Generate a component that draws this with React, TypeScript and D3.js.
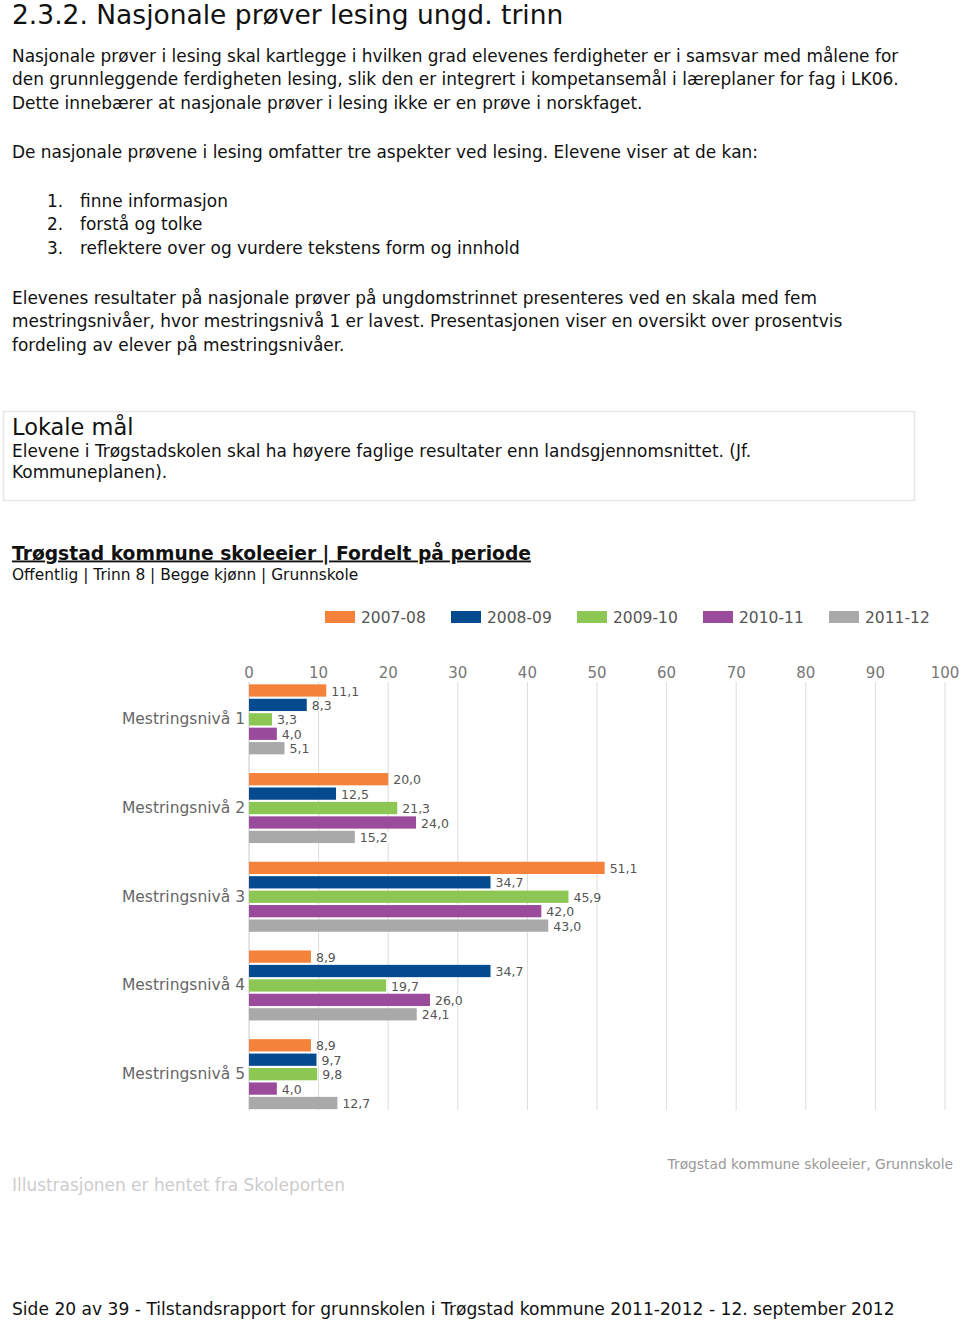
import * as d3 from "d3";

const levels = ["Mestringsnivå 1", "Mestringsnivå 2", "Mestringsnivå 3", "Mestringsnivå 4", "Mestringsnivå 5"];
const periods = ["2007-08", "2008-09", "2009-10", "2010-11", "2011-12"];
const colors = ["#f5823a", "#044a8e", "#8cc653", "#9b4b9c", "#a9a9a9"];

const v0708 = [11.1, 20.0, 51.1, 8.9, 8.9];
const v0809 = [8.3, 12.5, 34.7, 34.7, 9.7];
const v0910 = [3.3, 21.3, 45.9, 19.7, 9.8];
const v1011 = [4.0, 24.0, 42.0, 26.0, 4.0];
const v1112 = [5.1, 15.2, 43.0, 24.1, 12.7];
const values = [v0708, v0809, v0910, v1011, v1112];

const xTicks = [0, 10, 20, 30, 40, 50, 60, 70, 80, 90, 100];

const FONT = "'DejaVu Sans', Verdana, sans-serif";

const intro = [
  "Nasjonale prøver i lesing skal kartlegge i hvilken grad elevenes ferdigheter er i samsvar med målene for",
  "den grunnleggende ferdigheten lesing, slik den er integrert i kompetansemål i læreplaner for fag i LK06.",
  "Dette innebærer at nasjonale prøver i lesing ikke er en prøve i norskfaget.",
];
const aspects = ["finne informasjon", "forstå og tolke", "reflektere over og vurdere tekstens form og innhold"];
const results = [
  "Elevenes resultater på nasjonale prøver på ungdomstrinnet presenteres ved en skala med fem",
  "mestringsnivåer, hvor mestringsnivå 1 er lavest. Presentasjonen viser en oversikt over prosentvis",
  "fordeling av elever på mestringsnivåer.",
];

export default function App() {
  const x = d3.scaleLinear().domain([0, 100]).range([249, 945]);
  const y = d3.scaleBand().domain(levels).range([675, 1118.5]);
  const inner = d3
    .scaleBand()
    .domain(periods)
    .range([(y.bandwidth() - 70) / 2, (y.bandwidth() + 70) / 2])
    .paddingInner(0.15);
  const fmt = (v: number) => v.toFixed(1).replace(".", ",");
  const bodySize = 16.95;

  return (
    <svg
      width={960}
      height={1322}
      style={{ position: "absolute", left: 0, top: 0, background: "#fff" }}
      fontFamily={FONT}
    >
      <text x={12} y={24} fontSize={26.5} fill="#111">
        2.3.2.  Nasjonale prøver lesing ungd. trinn
      </text>
      {intro.map((t, i) => (
        <text key={t} x={12} y={61.5 + i * 23.5} fontSize={bodySize} fill="#111">
          {t}
        </text>
      ))}
      <text x={12} y={157.5} fontSize={bodySize} fill="#111">
        De nasjonale prøvene i lesing omfatter tre aspekter ved lesing. Elevene viser at de kan:
      </text>
      {aspects.map((t, i) => (
        <g key={t}>
          <text x={47} y={206.5 + i * 23.5} fontSize={bodySize} fill="#111">
            {i + 1}.
          </text>
          <text x={80} y={206.5 + i * 23.5} fontSize={bodySize} fill="#111">
            {t}
          </text>
        </g>
      ))}
      {results.map((t, i) => (
        <text key={t} x={12} y={303.5 + i * 23.5} fontSize={bodySize} fill="#111">
          {t}
        </text>
      ))}

      <rect x={3.5} y={411.5} width={911} height={89} fill="#fff" stroke="#e6e6e6" strokeWidth={1.5} />
      <text x={12} y={434.5} fontSize={22.5} fill="#111">
        Lokale mål
      </text>
      <text x={12} y={456.5} fontSize={bodySize} fill="#111">
        Elevene i Trøgstadskolen skal ha høyere faglige resultater enn landsgjennomsnittet. (Jf.
      </text>
      <text x={12} y={477.5} fontSize={bodySize} fill="#111">
        Kommuneplanen).
      </text>

      <text x={12} y={559.5} fontSize={18.7} fontWeight="bold" fill="#111" textDecoration="underline">
        Trøgstad kommune skoleeier | Fordelt på periode
      </text>
      <text x={12} y={579.5} fontSize={15.4} fill="#111">
        Offentlig | Trinn 8 | Begge kjønn | Grunnskole
      </text>

      {periods.map((p, i) => (
        <g key={p} transform={`translate(${325 + i * 126},611)`}>
          <rect width={30} height={12} fill={colors[i]} />
          <text x={36} y={11.5} fontSize={15.5} fill="#555">
            {p}
          </text>
        </g>
      ))}

      {xTicks.map((t) => (
        <g key={t}>
          <line x1={x(t)} x2={x(t)} y1={682} y2={1110} stroke={t === 0 ? "#c8c8c8" : "#dcdcdc"} />
          <text x={x(t)} y={678} fontSize={15} fill="#777" textAnchor="middle">
            {t}
          </text>
        </g>
      ))}

      {levels.map((lvl, li) => (
        <g key={lvl} transform={`translate(0,${y(lvl)})`}>
          <text x={245} y={y.bandwidth() / 2 + 5} fontSize={15.5} fill="#666" textAnchor="end">
            {lvl}
          </text>
          {periods.map((p, pi) => {
            const v = values[pi][li];
            const by = inner(p) as number;
            const h = inner.bandwidth();
            const label = fmt(v);
            return (
              <g key={p}>
                <rect x={x(0)} y={by} width={x(v) - x(0)} height={h} fill={colors[pi]} />
                <rect x={x(v) + 2} y={by + 1} width={label.length * 7 + 6} height={h - 1} fill="#fff" />
                <text x={x(v) + 5} y={by + h - 1} fontSize={12.5} fill="#555">
                  {label}
                </text>
              </g>
            );
          })}
        </g>
      ))}

      <text x={953} y={1169} fontSize={13.8} fill="#999" textAnchor="end">
        Trøgstad kommune skoleeier, Grunnskole
      </text>
      <text x={12} y={1191} fontSize={bodySize} fill="#ccc">
        Illustrasjonen er hentet fra Skoleporten
      </text>
      <text x={12} y={1315} fontSize={17.1} fill="#111">
        Side 20 av 39 - Tilstandsrapport for grunnskolen i Trøgstad kommune 2011-2012 - 12. september 2012
      </text>
    </svg>
  );
}
